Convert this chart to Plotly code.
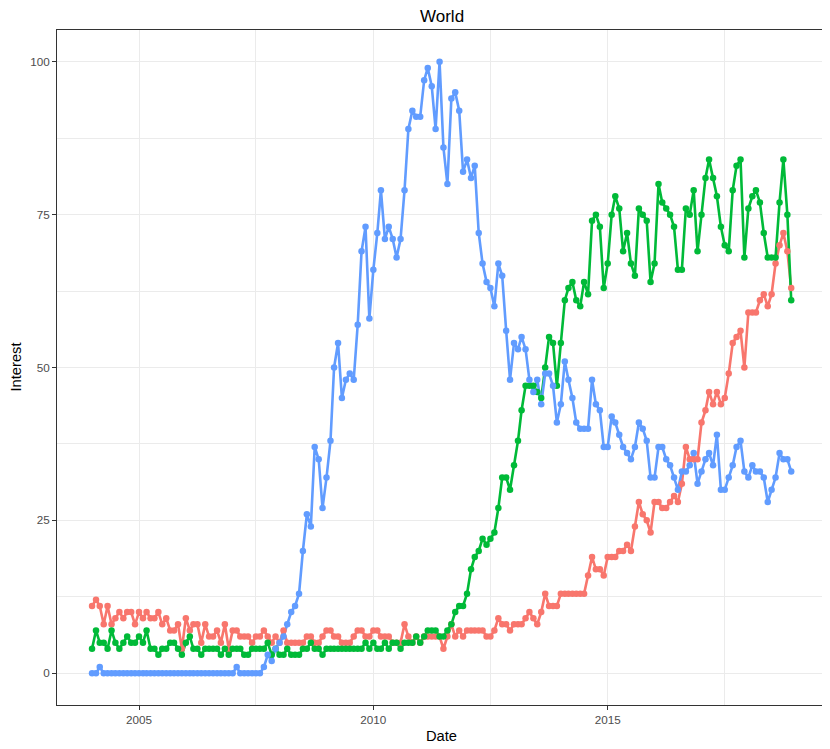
import pandas as pd
import plotly.graph_objects as go

dates = pd.date_range("2004-01-01", periods=180, freq="MS")

red_vals = [11, 12, 11, 8, 11, 8, 9, 10, 9, 10, 10, 8, 10, 9, 10, 9, 9, 10, 8, 9,
            7, 7, 8, 4, 9, 7, 8, 8, 5, 8, 6, 6, 7, 5, 8, 4, 7, 7, 6, 6,
            6, 5, 6, 6, 7, 6, 5, 6, 5, 7, 5, 5, 5, 5, 5, 6, 6, 5, 5, 6,
            7, 7, 6, 6, 5, 5, 5, 6, 7, 7, 6, 6, 7, 7, 6, 6, 6, 5, 5, 5,
            8, 6, 5, 6, 5, 6, 6, 6, 6, 6, 4, 6, 8, 6, 7, 6, 7, 7, 7, 7,
            7, 6, 6, 7, 9, 8, 8, 7, 8, 8, 8, 9, 10, 9, 8, 10, 13, 11, 11, 11,
            13, 13, 13, 13, 13, 13, 13, 16, 19, 17, 17, 16, 19, 19, 19, 20, 20, 21, 20, 24,
            28, 26, 25, 23, 28, 28, 27, 27, 28, 29, 28, 31, 37, 35, 35, 35, 41, 43, 46, 44,
            46, 44, 45, 49, 54, 55, 56, 50, 59, 59, 59, 61, 62, 60, 62, 67, 70, 72, 69, 63]

green_vals = [4, 7, 5, 5, 4, 7, 5, 4, 5, 6, 5, 5, 6, 5, 7, 4, 4, 3, 4, 4,
              5, 5, 4, 3, 5, 6, 4, 4, 3, 4, 4, 4, 4, 3, 4, 3, 4, 4, 4, 3,
              3, 4, 4, 4, 4, 5, 3, 4, 3, 3, 4, 3, 3, 3, 4, 4, 5, 4, 4, 3,
              4, 4, 4, 4, 4, 4, 4, 4, 4, 4, 5, 4, 5, 4, 4, 5, 4, 5, 5, 4,
              5, 5, 5, 6, 5, 6, 7, 7, 7, 6, 6, 7, 8, 10, 11, 11, 13, 17, 19, 20,
              22, 21, 22, 23, 27, 32, 32, 30, 34, 38, 43, 47, 47, 47, 46, 45, 50, 55, 54, 47,
              54, 61, 63, 64, 61, 60, 64, 62, 74, 75, 73, 63, 67, 75, 78, 76, 69, 72, 67, 65,
              76, 75, 74, 64, 67, 80, 77, 76, 75, 73, 66, 66, 76, 75, 79, 69, 75, 81, 84, 81,
              78, 73, 70, 69, 79, 83, 84, 68, 76, 78, 79, 77, 72, 68, 68, 68, 77, 84, 75, 61]

blue_vals = [0, 0, 1, 0, 0, 0, 0, 0, 0, 0, 0, 0, 0, 0, 0, 0, 0, 0, 0, 0,
             0, 0, 0, 0, 0, 0, 0, 0, 0, 0, 0, 0, 0, 0, 0, 0, 0, 1, 0, 0,
             0, 0, 0, 0, 1, 3, 2, 4, 5, 6, 8, 10, 11, 13, 20, 26, 24, 37, 35, 27,
             32, 38, 50, 54, 45, 48, 49, 48, 57, 69, 73, 58, 66, 72, 79, 71, 73, 71, 68, 71,
             79, 89, 92, 91, 91, 97, 99, 96, 89, 100, 86, 80, 94, 95, 92, 82, 84, 81, 83, 72,
             67, 64, 63, 60, 67, 65, 56, 48, 54, 53, 55, 53, 48, 46, 48, 44, 49, 49, 47, 41,
             44, 51, 48, 45, 41, 40, 40, 40, 48, 44, 43, 37, 37, 42, 41, 39, 37, 36, 35, 37,
             41, 40, 38, 32, 32, 37, 37, 35, 34, 32, 30, 33, 33, 34, 36, 31, 33, 35, 36, 34,
             39, 30, 30, 32, 34, 37, 38, 33, 32, 34, 33, 33, 32, 28, 30, 32, 36, 35, 35, 33]

series = [("red", red_vals, "#F8766D"), ("green", green_vals, "#00BA38"), ("blue", blue_vals, "#619CFF")]

fig = go.Figure()
for name, vals, col in series:
    fig.add_trace(go.Scatter(x=dates, y=vals, mode="lines", line=dict(color=col, width=2.6),
                             showlegend=False, hoverinfo="skip"))
for name, vals, col in series:
    fig.add_trace(go.Scatter(x=dates, y=vals, mode="markers", marker=dict(color=col, size=6.5),
                             showlegend=False, name=name))

font_family = "Liberation Sans, Arial, sans-serif"
fig.update_layout(
    width=822, height=741,
    margin=dict(l=49, r=4, t=22, b=44, autoexpand=False),
    paper_bgcolor="white", plot_bgcolor="white",
    font=dict(family=font_family, color="black"),
    annotations=[
        dict(text="World", xref="paper", yref="paper", x=0.5, y=1, yshift=14,
             xanchor="center", yanchor="middle", showarrow=False,
             font=dict(size=17, color="black")),
        dict(text="Date", xref="paper", yref="paper", x=0.5, y=0, yshift=-31,
             xanchor="center", yanchor="middle", showarrow=False,
             font=dict(size=14.7, color="black")),
        dict(text="Interest", xref="paper", yref="paper", x=0, y=0.5, xshift=-42,
             xanchor="center", yanchor="middle", showarrow=False, textangle=-90,
             font=dict(size=14.7, color="black")),
    ],
)
fig.update_xaxes(
    type="date", range=["2003-04-03", "2019-08-29"], automargin=False,
    tick0="2005-01-01", dtick="M60", tickformat="%Y",
    showgrid=True, gridcolor="#EBEBEB", gridwidth=1.1,
    minor=dict(dtick="M30", tick0="2005-01-01", showgrid=True, gridcolor="#EBEBEB", gridwidth=0.55, ticklen=0),
    showline=True, mirror=True, linecolor="#333333", linewidth=1,
    ticks="outside", ticklen=4, tickcolor="#333333", tickwidth=1,
    tickfont=dict(size=11.7, color="#4D4D4D"),
    zeroline=False,
)
fig.update_yaxes(
    range=[-5.2, 105.2], automargin=False,
    tickvals=[0, 25, 50, 75, 100],
    showgrid=True, gridcolor="#EBEBEB", gridwidth=1.1,
    minor=dict(tickvals=[12.5, 37.5, 62.5, 87.5], showgrid=True, gridcolor="#EBEBEB", gridwidth=0.55, ticklen=0),
    showline=True, mirror=True, linecolor="#333333", linewidth=1,
    ticks="outside", ticklen=4, tickcolor="#333333", tickwidth=1,
    tickfont=dict(size=11.7, color="#4D4D4D"),
    zeroline=False,
)

fig.write_html("out.html")
